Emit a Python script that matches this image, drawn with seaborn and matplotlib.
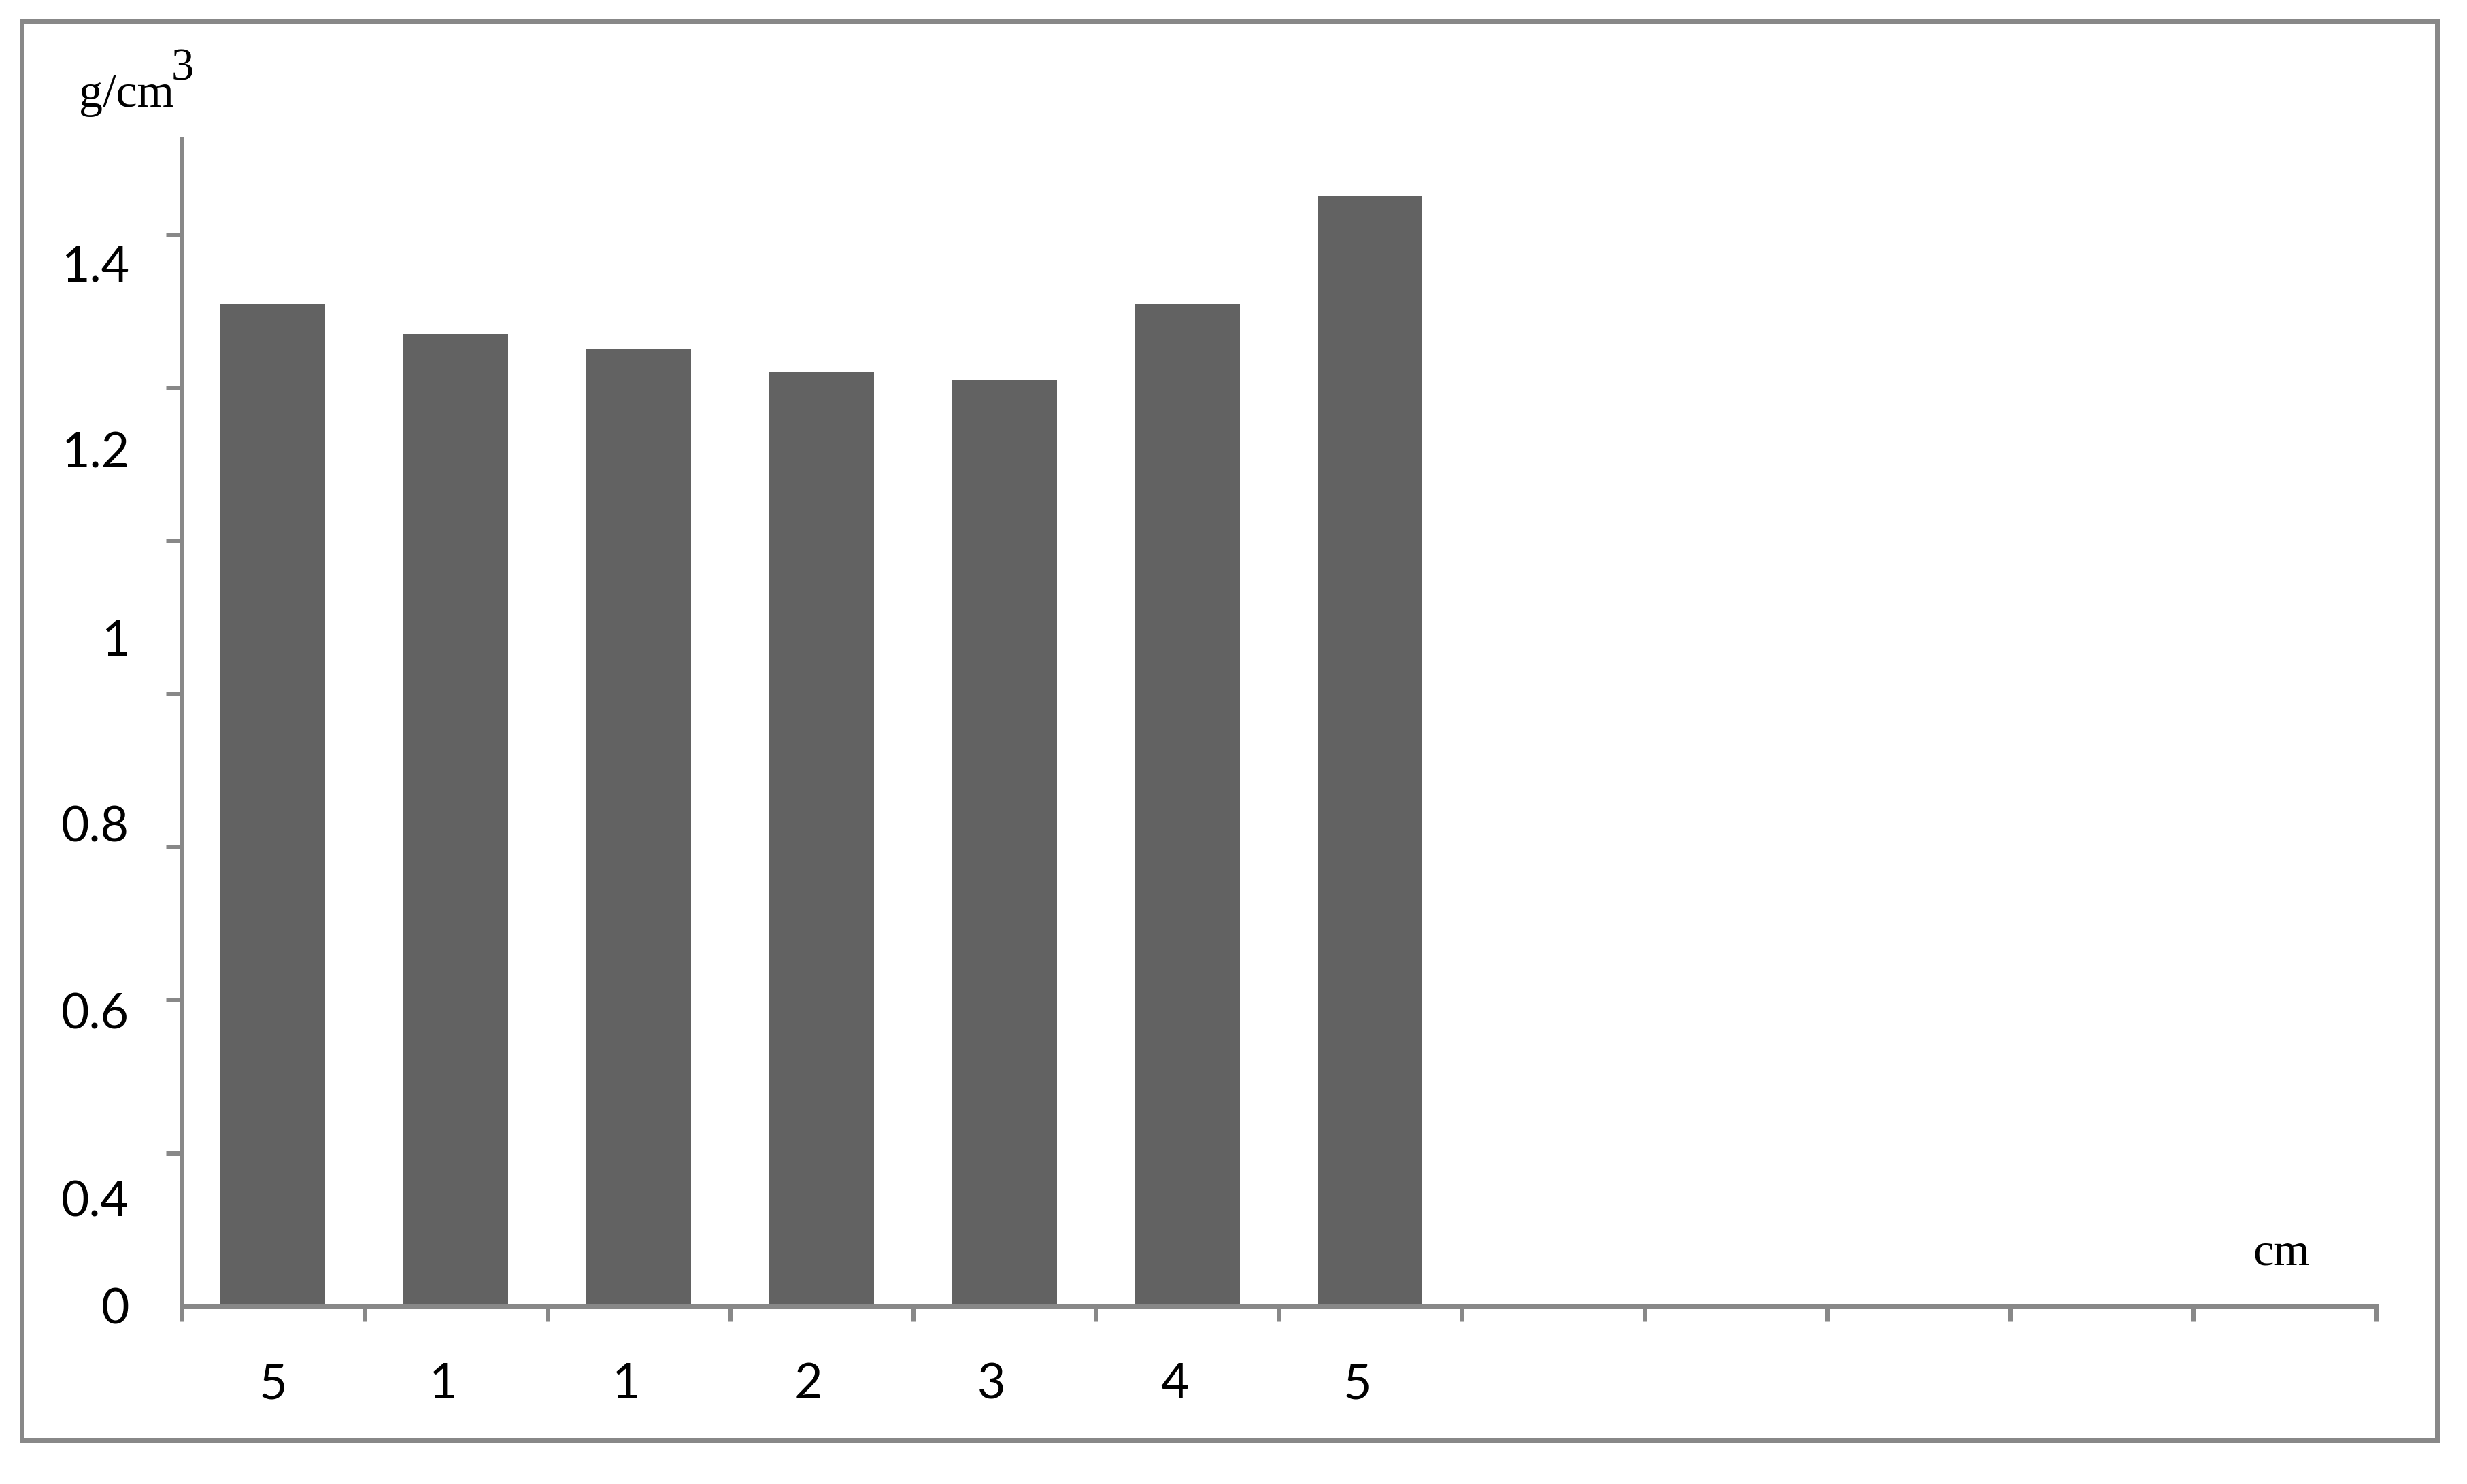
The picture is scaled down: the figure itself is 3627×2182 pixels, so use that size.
#!/usr/bin/env python3
"""Bulk density by depth layer, bar chart in an Excel-like frame."""

import matplotlib

matplotlib.use("Agg")
import matplotlib.pyplot as plt
import matplotlib.transforms as mtransforms
import numpy as np
import pandas as pd
import seaborn as sns
from matplotlib.patches import Rectangle
from matplotlib.ticker import FixedLocator

# data
layer_labels = ["5", "1", "1", "2", "3", "4", "5"]
density = [1.309, 1.270, 1.250, 1.220, 1.210, 1.309, 1.450]
n_slots = 12  # category axis has room for 12 columns, only 7 filled

# y tick marks and where the (oddly offset) labels sit
ytick_marks = [0.0, 0.2, 0.4, 0.6, 0.8, 1.0, 1.2, 1.4]
ylabel_text = ["0", "0.4", "0.6", "0.8", "1", "1.2", "1.4"]
ylabel_pos = [0.0, 0.140, 0.386, 0.630, 0.873, 1.119, 1.362]

BAR = "#626262"
GREY = "#888888"

sns.set_theme(style="white")
plt.rcParams["font.family"] = ["Lato", "DejaVu Sans"]

W, H, DPI = 3627, 2182, 240
fig = plt.figure(figsize=(W / DPI, H / DPI), dpi=DPI)
fig.patch.set_facecolor("white")

# axes box in pixel terms of the reference
x0, x1, y_top, y_zero = 267, 3493, 204, 1920
ax = fig.add_axes([x0 / W, 1 - y_zero / H, (x1 - x0) / W, (y_zero - y_top) / H])

df = pd.DataFrame({"pos": np.arange(len(density)), "density": density})
sns.barplot(data=df, x="pos", y="density", color=BAR, saturation=1,
            width=0.573, linewidth=0, ax=ax)

ax.set_xlim(-0.5, n_slots - 0.5)
ax.set_ylim(0, 1.525)
ax.set_xlabel("")
ax.set_ylabel("")

for side in ("top", "right"):
    ax.spines[side].set_visible(False)
for side in ("left", "bottom"):
    ax.spines[side].set_color(GREY)
    ax.spines[side].set_linewidth(2.1)

# x: labels at slot centres, tick marks at slot boundaries
ax.set_xticks(np.arange(len(layer_labels)))
ax.set_xticklabels(layer_labels)
ax.xaxis.set_minor_locator(FixedLocator(np.arange(n_slots + 1) - 0.5))
ax.tick_params(axis="x", which="major", length=0, pad=25, labelsize=21.5, labelcolor="black")
ax.tick_params(axis="x", which="minor", bottom=True, direction="out", length=7,
               width=2.1, color=GREY)
# the original nudges all but the first label a little to the left
shift = mtransforms.ScaledTranslation(-19 / DPI, 0, fig.dpi_scale_trans)
for lbl in ax.get_xticklabels()[1:]:
    lbl.set_transform(lbl.get_transform() + shift)

# y: tick marks every 0.2, labels where the reference put them
ax.set_yticks(ylabel_pos)
ax.set_yticklabels(ylabel_text)
ax.yaxis.set_minor_locator(FixedLocator(ytick_marks))
ax.tick_params(axis="y", which="major", length=0, pad=23, labelsize=21.5, labelcolor="black")
ax.tick_params(axis="y", which="minor", left=True, direction="out", length=7,
               width=2.1, color=GREY)

# unit labels in a serif face
serif = ["Liberation Serif", "DejaVu Serif"]
fig.text(116 / W, 1 - 157 / H, "g/cm", family=serif, fontsize=21,
         ha="left", va="baseline", color="black")
fig.text(252 / W, 1 - 118 / H, "3", family=serif, fontsize=20,
         ha="left", va="baseline", color="black")
fig.text(3354 / W, 1 - 1860 / H, "cm", family=serif, fontsize=20.5,
         ha="center", va="baseline", color="black")

# outer chart frame
fig.patches.append(Rectangle((32 / W, 1 - 2118 / H), (3583 - 32) / W, (2118 - 31) / H,
                             transform=fig.transFigure, fill=False,
                             edgecolor=GREY, linewidth=2.1))

fig.savefig("out.png", dpi=DPI, facecolor="white")
